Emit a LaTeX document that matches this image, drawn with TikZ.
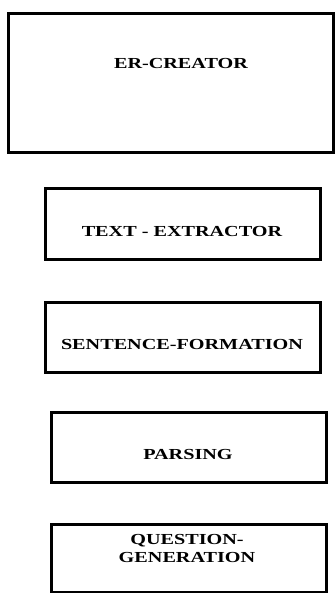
\documentclass[tikz,border=0pt]{standalone}
\usepackage{fontspec}
\newfontfamily\erfont[FakeStretch=1.32]{Liberation Serif}
\tikzset{
  stage/.style={draw, line width=3pt, inner sep=0pt, minimum width=275pt, minimum height=70pt},
  stagetext/.style={font=\erfont\bfseries\fontsize{15.3}{18}\selectfont, align=center, inner sep=0pt}
}
\begin{document}
\begin{tikzpicture}[x=1pt,y=-1pt]
  \useasboundingbox (0,0) rectangle (336,593);
  % boxes
  \node[stage, minimum width=325pt, minimum height=139pt] (creator) at (171.2,83.5) {};
  \node[stage] (extractor) at (182.5,224) {};
  \node[stage] (sentence) at (182.5,337) {};
  \node[stage] (parsing) at (188.5,447) {};
  \node[stage, minimum height=68pt] (question) at (188.5,558) {};
  % labels
  \node[stagetext] (creatortext) at (181,64) {ER-CREATOR};
  \node[stagetext] (extractortext) at (182,232) {TEXT - EXTRACTOR};
  \node[stagetext] (sentencetext) at (182,345) {SENTENCE-FORMATION};
  \node[stagetext] (parsingtext) at (188,455) {PARSING};
  \node[stagetext] (questiontext) at (187,549) {QUESTION-\\GENERATION};
\end{tikzpicture}
\end{document}
